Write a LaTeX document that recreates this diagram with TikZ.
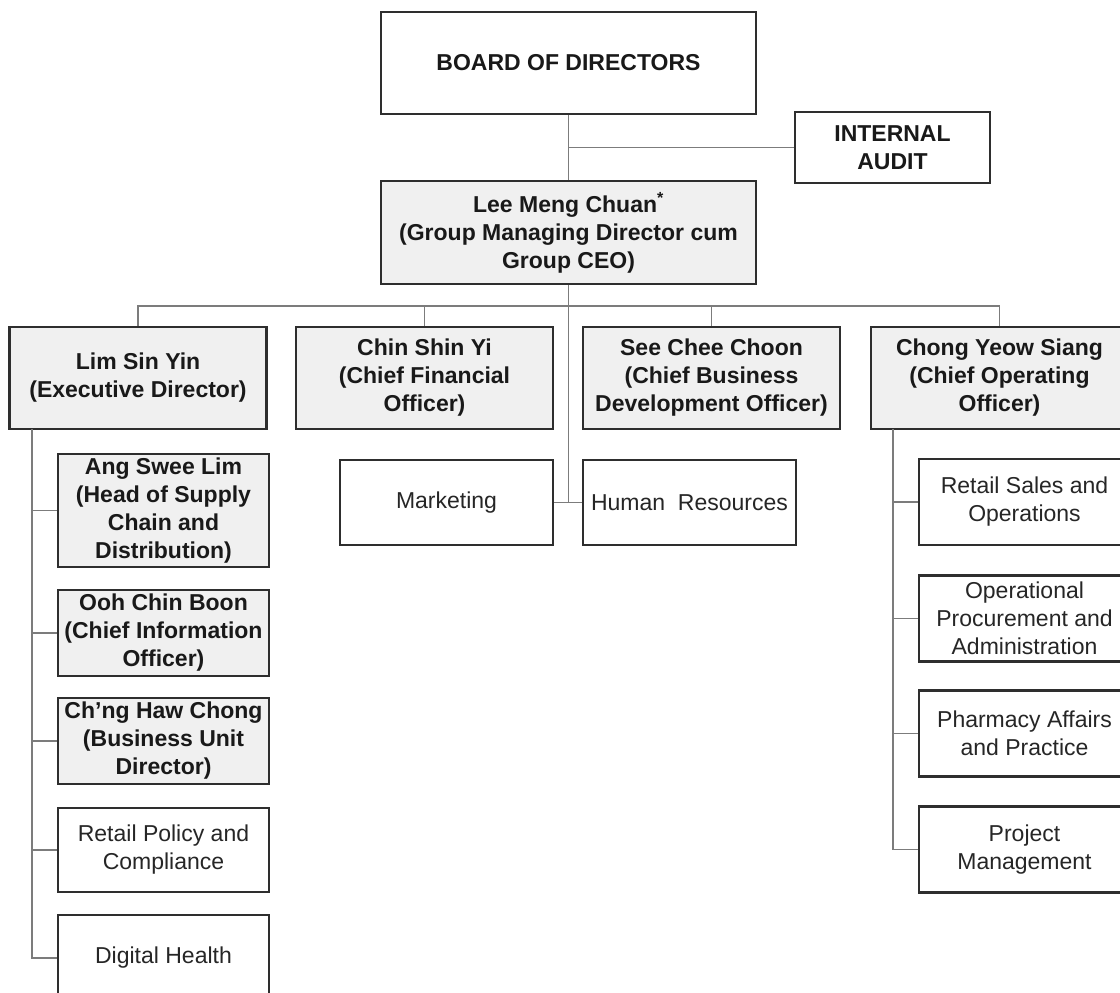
\documentclass[tikz,border=0pt]{standalone}
\usepackage{fontspec}
\setmainfont{Liberation Sans}
\definecolor{headfill}{HTML}{F0F0F0}
\definecolor{boxline}{HTML}{2E2E2E}
\definecolor{linkline}{HTML}{7C7C7C}

\begin{document}
\begin{tikzpicture}[x=1pt,y=-1pt,
    box/.style={draw=boxline,line width=2.2pt,align=center,inner sep=1pt,
      font=\fontsize{23}{28}\selectfont},
    top/.style={box,fill=white,text=black!90,
      font=\fontsize{23}{28}\selectfont\bfseries},
    head/.style={box,fill=headfill,text=black!90,
      font=\fontsize{23}{28}\selectfont\bfseries},
    unit/.style={box,fill=white,text=black!85},
    dirsize/.style={minimum width=257pt,minimum height=102pt},
    unitsize/.style={minimum width=211pt,minimum height=86pt},
    link/.style={draw=linkline,line width=1.7pt}]
  \useasboundingbox (0,0) rectangle (1120,993);
  \clip (0,0) rectangle (1120,993);

  % board and group MD
  \node[top,minimum width=375pt,minimum height=102pt] (board) at (568.5,63)
    {BOARD OF DIRECTORS};
  \node[top,minimum width=195pt,minimum height=71pt] (audit) at (892.5,147.5)
    {INTERNAL\\AUDIT};
  \node[head,minimum width=375pt,minimum height=103pt] (lee) at (568.5,232.5)
    {Lee Meng Chuan\textsuperscript{*}\\(Group Managing Director cum\\Group CEO)};

  % directors
  \node[head,dirsize] (lim) at (138,378) {Lim Sin Yin\\(Executive Director)};
  \node[head,dirsize] (chin) at (424.5,378) {Chin Shin Yi\\(Chief Financial\\Officer)};
  \node[head,dirsize] (see) at (711.5,378)
    {See Chee Choon\\(Chief Business\\Development Officer)};
  \node[head,dirsize] (chong) at (999.5,378)
    {Chong Yeow Siang\\(Chief Operating\\Officer)};

  % under Lim Sin Yin
  \node[head,unitsize,minimum height=113pt] (ang) at (163.5,510.5)
    {Ang Swee Lim\\(Head of Supply\\Chain and\\Distribution)};
  \node[head,unitsize] (ooh) at (163.5,633)
    {Ooh Chin Boon\\(Chief Information\\Officer)};
  \node[head,unitsize] (chng) at (163.5,741)
    {Ch’ng Haw Chong\\(Business Unit\\Director)};
  \node[unit,unitsize,minimum height=84pt] (rpc) at (163.5,850)
    {Retail Policy and\\Compliance};
  \node[unit,unitsize] (dig) at (163.5,958) {Digital Health};

  % under the group MD
  \node[unit,unitsize,minimum width=213pt,minimum height=85pt] (mkt) at (446.5,502.5)
    {Marketing};
  \node[unit,unitsize,minimum width=213pt,minimum height=85pt] (hr) at (689.5,502.5)
    {Human\ \ Resources};

  % under Chong Yeow Siang
  \node[unit,unitsize] (rso) at (1024.5,502) {Retail Sales and\\Operations};
  \node[unit,unitsize] (opa) at (1024.5,618.5)
    {Operational\\Procurement and\\Administration};
  \node[unit,unitsize] (paf) at (1024.5,733.5) {Pharmacy Affairs\\and Practice};
  \node[unit,unitsize] (pm) at (1024.5,849.5) {Project\\Management};

  % connectors
  \coordinate (bus) at (568.5,306);
  \coordinate (ltop) at (32,429);
  \coordinate (rtop) at (893,429);
  \draw[link] (board) -- (lee);
  \draw[link] (board.south |- audit.west) -- (audit.west);
  \draw[link] (lee.south) -- (lee.south |- mkt.east);
  \draw[link] (mkt.east) -- (hr.west);
  \draw[link] (lim.north) |- (bus) -| (chong.north);
  \draw[link] (chin.north) -- (chin.north |- bus);
  \draw[link] (see.north) -- (see.north |- bus);
  \draw[link] (ltop) |- (dig.west);
  \foreach \n in {ang,ooh,chng,rpc}
    \draw[link] (ltop |- \n.west) -- (\n.west);
  \draw[link] (rtop) |- (pm.west);
  \foreach \n in {rso,opa,paf}
    \draw[link] (rtop |- \n.west) -- (\n.west);
\end{tikzpicture}
\end{document}
